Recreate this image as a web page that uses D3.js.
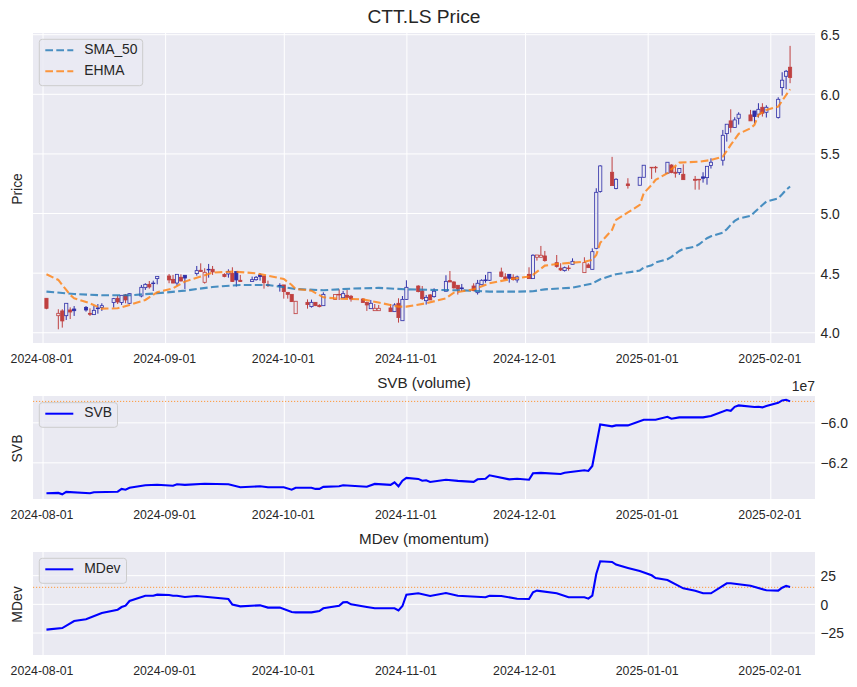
<!DOCTYPE html>
<html>
<head>
<meta charset="utf-8">
<script src="https://cdn.jsdelivr.net/npm/d3@7"></script>
<style>
  html, body { margin: 0; padding: 0; background: #fff; }
  svg { display: block; }
  text { font-family: "Liberation Sans", Arial, sans-serif; fill: #262626; }
</style>
</head>
<body>
<div id="chart"></div>
<script>
// Candles, one line per trading week
const candleDates = [
  '2024-08-02',
  '2024-08-05','2024-08-06','2024-08-07','2024-08-08','2024-08-09',
  '2024-08-12','2024-08-13','2024-08-14','2024-08-15','2024-08-16',
  '2024-08-19','2024-08-20','2024-08-21','2024-08-22','2024-08-23',
  '2024-08-26','2024-08-27','2024-08-28','2024-08-29','2024-08-30',
  '2024-09-02','2024-09-03','2024-09-04','2024-09-05','2024-09-06',
  '2024-09-09','2024-09-10','2024-09-11','2024-09-12','2024-09-13',
  '2024-09-16','2024-09-17','2024-09-18','2024-09-19','2024-09-20',
  '2024-09-23','2024-09-24','2024-09-25','2024-09-26','2024-09-27',
  '2024-09-30','2024-10-01','2024-10-02','2024-10-03','2024-10-04',
  '2024-10-07','2024-10-08','2024-10-09','2024-10-10','2024-10-11',
  '2024-10-14','2024-10-15','2024-10-16','2024-10-17','2024-10-18',
  '2024-10-21','2024-10-22','2024-10-23','2024-10-24','2024-10-25',
  '2024-10-28','2024-10-29','2024-10-30','2024-10-31','2024-11-01',
  '2024-11-04','2024-11-05','2024-11-06','2024-11-07','2024-11-08',
  '2024-11-11','2024-11-12','2024-11-13','2024-11-14','2024-11-15',
  '2024-11-18','2024-11-19','2024-11-20','2024-11-21','2024-11-22',
  '2024-11-25','2024-11-26','2024-11-27','2024-11-28','2024-11-29',
  '2024-12-02','2024-12-03','2024-12-04','2024-12-05','2024-12-06',
  '2024-12-09','2024-12-10','2024-12-11','2024-12-12','2024-12-13',
  '2024-12-16','2024-12-17','2024-12-18','2024-12-19','2024-12-20',
  '2024-12-23','2024-12-24','2024-12-27',
  '2024-12-30','2024-12-31','2025-01-02','2025-01-03',
  '2025-01-06','2025-01-07','2025-01-08','2025-01-09','2025-01-10',
  '2025-01-13','2025-01-14','2025-01-15','2025-01-16','2025-01-17',
  '2025-01-20','2025-01-21','2025-01-22','2025-01-23','2025-01-24',
  '2025-01-27','2025-01-28','2025-01-29','2025-01-30','2025-01-31',
  '2025-02-03','2025-02-04','2025-02-05','2025-02-06'
];
const opens = [
  4.285,
  4.139,4.179,4.139,4.187,4.195,
  4.209,4.159,4.148,4.204,4.207,
  4.249,4.285,4.249,4.313,4.243,
  4.304,4.374,4.402,4.413,4.450,
  4.472,4.444,4.413,4.461,4.478,
  4.492,4.520,4.419,4.528,4.528,
  4.486,4.489,4.495,4.509,4.436,
  4.425,4.441,4.481,4.472,4.397,
  4.394,4.397,4.335,4.318,4.156,
  4.251,4.215,4.251,4.226,4.223,
  4.276,4.318,4.290,4.310,4.302,
  4.279,4.249,4.198,4.181,4.181,
  4.204,4.173,4.243,4.097,4.276,
  4.388,4.346,4.265,4.313,4.299,
  4.344,4.433,4.422,4.394,4.372,
  4.388,4.332,4.399,4.439,4.436,
  4.506,4.464,4.486,4.461,4.439,
  4.486,4.450,4.629,4.629,4.640,
  4.584,4.537,4.517,4.539,4.570,
  4.500,4.565,4.528,4.704,5.180,
  5.342,5.205,5.244,
  5.233,5.300,5.381,5.381,
  5.334,5.403,5.342,5.339,5.325,
  5.283,5.280,5.303,5.297,5.398,
  5.443,5.666,5.773,5.717,5.795,
  5.823,5.856,5.829,5.887,5.845,
  5.801,6.052,6.147,6.223
];
const highs = [
  4.285,
  4.193,4.193,4.243,4.209,4.220,
  4.220,4.201,4.220,4.237,4.243,
  4.288,4.310,4.310,4.321,4.327,
  4.397,4.411,4.430,4.433,4.469,
  4.489,4.481,4.486,4.486,4.478,
  4.556,4.578,4.537,4.573,4.556,
  4.495,4.528,4.545,4.509,4.481,
  4.467,4.472,4.495,4.472,4.433,
  4.411,4.397,4.335,4.318,4.260,
  4.276,4.274,4.251,4.235,4.335,
  4.316,4.360,4.346,4.355,4.313,
  4.285,4.257,4.271,4.237,4.229,
  4.237,4.243,4.285,4.304,4.436,
  4.394,4.388,4.313,4.321,4.369,
  4.478,4.514,4.427,4.394,4.405,
  4.411,4.439,4.444,4.481,4.503,
  4.542,4.495,4.486,4.486,4.475,
  4.545,4.654,4.648,4.724,4.682,
  4.648,4.579,4.551,4.562,4.620,
  4.629,4.579,4.704,5.208,5.401,
  5.471,5.292,5.292,
  5.300,5.401,5.384,5.395,
  5.426,5.409,5.389,5.373,5.409,
  5.311,5.286,5.342,5.392,5.459,
  5.697,5.745,5.870,5.803,5.845,
  5.865,5.856,5.921,5.921,5.904,
  5.971,6.181,6.200,6.402
];
const lows = [
  4.193,
  4.025,4.039,4.103,4.111,4.137,
  4.173,4.137,4.148,4.156,4.179,
  4.207,4.237,4.229,4.243,4.237,
  4.293,4.355,4.366,4.346,4.402,
  4.411,4.411,4.391,4.427,4.363,
  4.475,4.506,4.408,4.458,4.481,
  4.461,4.458,4.422,4.383,4.422,
  4.425,4.433,4.433,4.366,4.380,
  4.341,4.282,4.282,4.254,4.156,
  4.198,4.207,4.220,4.209,4.223,
  4.276,4.271,4.285,4.285,4.257,
  4.249,4.179,4.198,4.181,4.181,
  4.173,4.173,4.081,4.097,4.271,
  4.335,4.271,4.232,4.271,4.290,
  4.344,4.422,4.366,4.316,4.344,
  4.344,4.316,4.397,4.416,4.430,
  4.461,4.444,4.416,4.433,4.416,
  4.450,4.450,4.601,4.629,4.592,
  4.542,4.514,4.509,4.517,4.570,
  4.500,4.539,4.528,4.696,5.171,
  5.230,5.199,5.205,
  5.233,5.300,5.286,5.339,
  5.334,5.334,5.297,5.320,5.280,
  5.196,5.196,5.255,5.238,5.373,
  5.398,5.599,5.675,5.717,5.742,
  5.773,5.753,5.801,5.809,5.801,
  5.792,5.985,6.038,6.089
];
const closes = [
  4.201,
  4.159,4.095,4.243,4.170,4.181,
  4.187,4.151,4.184,4.198,4.223,
  4.282,4.254,4.310,4.271,4.324,
  4.377,4.402,4.380,4.411,4.469,
  4.439,4.413,4.486,4.430,4.455,
  4.517,4.509,4.503,4.523,4.506,
  4.467,4.509,4.425,4.439,4.425,
  4.441,4.461,4.467,4.416,4.394,
  4.388,4.341,4.318,4.257,4.260,
  4.232,4.251,4.223,4.215,4.318,
  4.316,4.313,4.324,4.293,4.279,
  4.249,4.229,4.243,4.201,4.201,
  4.173,4.229,4.123,4.276,4.377,
  4.341,4.282,4.293,4.271,4.344,
  4.427,4.422,4.372,4.363,4.366,
  4.349,4.411,4.436,4.433,4.503,
  4.467,4.447,4.453,4.444,4.464,
  4.450,4.646,4.648,4.646,4.601,
  4.551,4.523,4.542,4.537,4.595,
  4.584,4.542,4.676,5.174,5.395,
  5.230,5.283,5.230,
  5.300,5.401,5.384,5.384,
  5.426,5.339,5.334,5.373,5.280,
  5.275,5.283,5.292,5.392,5.426,
  5.652,5.745,5.717,5.781,5.829,
  5.773,5.809,5.870,5.837,5.887,
  5.954,6.114,6.189,6.136
];
// b = blue candle, r = red candle
const tones = [
  'r',
  'r','r','b','r','b',
  'b','r','b','b','b',
  'b','r','b','r','b',
  'b','b','r','b','b',
  'r','r','b','r','b',
  'b','r','r','b','r',
  'r','b','r','b','r',
  'b','b','b','r','r',
  'b','r','r','r','r',
  'r','b','r','r','b',
  'r','r','b','r','r',
  'r','r','b','r','r',
  'r','b','r','b','b',
  'r','r','b','r','b',
  'b','r','r','r','b',
  'r','b','b','b','b',
  'r','r','b','r','b',
  'r','b','r','r','r',
  'r','r','b','r','b',
  'r','r','b','b','b',
  'r','b','r',
  'b','b','r','r',
  'b','r','r','b','r',
  'r','r','b','b','b',
  'b','b','r','b','b',
  'r','b','b','r','b',
  'b','b','b','r'
];

const smaDates = ['2024-08-02','2024-08-09','2024-08-16','2024-08-23','2024-08-30','2024-09-06','2024-09-13','2024-09-20','2024-09-27','2024-10-04','2024-10-11','2024-10-18','2024-10-25','2024-11-01','2024-11-08','2024-11-15','2024-11-22','2024-11-29','2024-12-03','2024-12-06','2024-12-13','2024-12-18','2024-12-20','2024-12-24','2024-12-30','2024-12-31','2025-01-02','2025-01-03','2025-01-06','2025-01-07','2025-01-09','2025-01-10','2025-01-13','2025-01-14','2025-01-16','2025-01-17','2025-01-20','2025-01-21','2025-01-22','2025-01-23','2025-01-24','2025-01-27','2025-01-28','2025-01-30','2025-01-31','2025-02-03','2025-02-04','2025-02-05','2025-02-06'];
const smaValues = [4.341,4.321,4.310,4.310,4.327,4.349,4.380,4.397,4.397,4.363,4.352,4.366,4.372,4.360,4.355,4.352,4.341,4.341,4.344,4.360,4.374,4.408,4.445,4.487,4.517,4.543,4.562,4.585,4.613,4.632,4.682,4.699,4.719,4.738,4.789,4.805,4.836,4.864,4.901,4.934,4.954,4.976,5.007,5.068,5.096,5.124,5.158,5.194,5.222];

const ehmaDates = ['2024-08-02','2024-08-05','2024-08-07','2024-08-08','2024-08-09','2024-08-13','2024-08-16','2024-08-20','2024-08-23','2024-08-27','2024-08-28','2024-08-30','2024-09-03','2024-09-06','2024-09-10','2024-09-13','2024-09-18','2024-09-24','2024-09-27','2024-10-01','2024-10-03','2024-10-04','2024-10-08','2024-10-11','2024-10-15','2024-10-21','2024-10-25','2024-10-30','2024-11-01','2024-11-06','2024-11-11','2024-11-13','2024-11-18','2024-11-22','2024-11-27','2024-12-02','2024-12-03','2024-12-06','2024-12-09','2024-12-16','2024-12-18','2024-12-19','2024-12-20','2024-12-23','2024-12-24','2024-12-27','2024-12-30','2024-12-31','2025-01-02','2025-01-03','2025-01-06','2025-01-07','2025-01-09','2025-01-14','2025-01-17','2025-01-20','2025-01-22','2025-01-24','2025-01-27','2025-01-28','2025-01-29','2025-01-31','2025-02-03','2025-02-06'];
const ehmaValues = [4.486,4.439,4.355,4.313,4.285,4.243,4.198,4.201,4.229,4.271,4.293,4.335,4.369,4.425,4.467,4.500,4.509,4.495,4.475,4.447,4.397,4.363,4.349,4.293,4.282,4.276,4.249,4.215,4.215,4.243,4.285,4.332,4.360,4.411,4.444,4.467,4.481,4.559,4.573,4.592,4.607,4.648,4.750,4.858,4.942,5.005,5.068,5.166,5.236,5.278,5.334,5.367,5.423,5.431,5.445,5.473,5.571,5.664,5.711,5.739,5.823,5.865,5.893,6.038];

// SVB in units of 1e7
const svbDates = ['2024-08-02','2024-08-05','2024-08-06','2024-08-07','2024-08-13','2024-08-14','2024-08-20','2024-08-21','2024-08-22','2024-08-23','2024-08-27','2024-08-30','2024-09-03','2024-09-04','2024-09-06','2024-09-11','2024-09-17','2024-09-20','2024-09-25','2024-09-27','2024-10-01','2024-10-03','2024-10-04','2024-10-08','2024-10-09','2024-10-10','2024-10-11','2024-10-15','2024-10-16','2024-10-22','2024-10-24','2024-10-28','2024-10-29','2024-10-30','2024-10-31','2024-11-01','2024-11-04','2024-11-05','2024-11-06','2024-11-07','2024-11-11','2024-11-14','2024-11-18','2024-11-19','2024-11-21','2024-11-22','2024-11-27','2024-11-29','2024-12-02','2024-12-03','2024-12-05','2024-12-10','2024-12-11','2024-12-16','2024-12-17','2024-12-18','2024-12-19','2024-12-20','2024-12-23','2024-12-24','2024-12-27','2024-12-31','2025-01-03','2025-01-06','2025-01-07','2025-01-09','2025-01-15','2025-01-17','2025-01-21','2025-01-22','2025-01-23','2025-01-24','2025-01-28','2025-01-29','2025-01-30','2025-01-31','2025-02-03','2025-02-04','2025-02-05','2025-02-06'];
const svbValues = [-6.355,-6.353,-6.360,-6.348,-6.355,-6.350,-6.347,-6.333,-6.337,-6.327,-6.315,-6.312,-6.317,-6.310,-6.313,-6.307,-6.310,-6.325,-6.320,-6.325,-6.325,-6.337,-6.327,-6.327,-6.333,-6.333,-6.323,-6.320,-6.315,-6.322,-6.308,-6.313,-6.300,-6.320,-6.292,-6.278,-6.283,-6.292,-6.290,-6.298,-6.287,-6.293,-6.298,-6.285,-6.282,-6.265,-6.285,-6.282,-6.287,-6.255,-6.253,-6.258,-6.252,-6.240,-6.243,-6.218,-6.113,-6.010,-6.020,-6.015,-6.015,-5.987,-5.987,-5.972,-5.982,-5.975,-5.975,-5.968,-5.938,-5.942,-5.922,-5.915,-5.923,-5.922,-5.925,-5.918,-5.902,-5.890,-5.887,-5.895];

const mdevDates = ['2024-08-02','2024-08-06','2024-08-09','2024-08-12','2024-08-16','2024-08-20','2024-08-21','2024-08-22','2024-08-23','2024-08-27','2024-08-29','2024-08-30','2024-09-02','2024-09-03','2024-09-04','2024-09-06','2024-09-09','2024-09-17','2024-09-18','2024-09-20','2024-09-25','2024-09-27','2024-09-30','2024-10-03','2024-10-04','2024-10-08','2024-10-10','2024-10-11','2024-10-15','2024-10-16','2024-10-17','2024-10-18','2024-10-22','2024-10-24','2024-10-29','2024-10-30','2024-10-31','2024-11-01','2024-11-04','2024-11-07','2024-11-11','2024-11-14','2024-11-21','2024-11-22','2024-11-25','2024-11-29','2024-12-02','2024-12-03','2024-12-04','2024-12-09','2024-12-12','2024-12-16','2024-12-17','2024-12-18','2024-12-19','2024-12-20','2024-12-23','2024-12-24','2024-12-27','2024-12-30','2025-01-02','2025-01-03','2025-01-06','2025-01-10','2025-01-13','2025-01-15','2025-01-17','2025-01-21','2025-01-22','2025-01-27','2025-01-31','2025-02-03','2025-02-04','2025-02-05','2025-02-06'];
const mdevValues = [-22.5,-21.1,-15.0,-13.5,-8.0,-5.1,-2.8,-1.6,2.5,7.1,7.1,8.0,7.7,7.1,7.1,6.0,6.8,4.2,-0.7,-2.2,-1.3,-3.3,-3.3,-7.1,-7.4,-7.4,-6.3,-3.9,-1.6,1.3,1.6,-0.4,-2.8,-3.9,-3.9,-5.7,-1.9,8.0,9.2,6.8,9.4,7.1,5.7,7.1,6.8,4.5,4.2,10.0,11.5,9.2,5.7,5.7,4.5,7.1,26.0,37.1,36.5,34.2,31.3,28.6,24.9,22.5,20.8,13.5,11.5,9.2,9.2,17.9,17.9,15.8,11.8,11.5,14.1,15.6,14.7];

const dateTicks = ['2024-08-01','2024-09-01','2024-10-01','2024-11-01','2024-12-01','2025-01-01','2025-02-01'];
const priceTicks = [4.0,4.5,5.0,5.5,6.0,6.5];
const svbTicks = [-6.2,-6.0];
const mdevTicks = [-25,0,25];
const svbLevel = -5.895;
const mdevLevel = 14.4;

const width = 857, height = 687;
const left = 33, right = 815;
const parseDate = d3.utcParse('%Y-%m-%d');
const dashed = '7.7,3.3';

const svg = d3.select('#chart').append('svg')
    .attr('width', width)
    .attr('height', height);

// Shared date scale
const xScale = d3.scaleUtc()
    .domain([parseDate('2024-08-01'), parseDate('2025-02-01')])
    .range([42.5, 770.3]);

function drawPanel(top, bottom, domain, ticks, fmt, title, titleY, titleSize, label) {
    const yScale = d3.scaleLinear().domain(domain).range([bottom, top]);

    svg.append('rect')
        .attr('x', left).attr('y', top)
        .attr('width', right - left).attr('height', bottom - top)
        .attr('fill', '#eaeaf2');

    // x axis carries the vertical grid lines
    const xAxis = svg.append('g')
        .attr('transform', `translate(0, ${bottom})`)
        .call(d3.axisBottom(xScale)
            .tickValues(dateTicks.map(parseDate))
            .tickSize(top - bottom)
            .tickPadding(11)
            .tickFormat(d3.utcFormat('%Y-%m-%d')));
    xAxis.select('.domain').remove();
    xAxis.selectAll('line').attr('stroke', '#fff').attr('stroke-width', 1);
    xAxis.selectAll('text').attr('x', -1).style('font-size', '12.3px');

    const yAxis = svg.append('g')
        .attr('transform', `translate(${right}, 0)`)
        .call(d3.axisRight(yScale)
            .tickValues(ticks)
            .tickSize(left - right)
            .tickPadding(5.5)
            .tickFormat(fmt));
    yAxis.select('.domain').remove();
    yAxis.selectAll('line').attr('stroke', '#fff').attr('stroke-width', 1);
    yAxis.selectAll('text').attr('y', 1).style('font-size', '13.9px');

    svg.append('text')
        .attr('x', (left + right) / 2).attr('y', titleY)
        .attr('text-anchor', 'middle')
        .attr('dominant-baseline', 'middle')
        .style('font-size', titleSize)
        .text(title);

    svg.append('text')
        .attr('transform', `translate(18.5, ${(top + bottom) / 2 + 1}) rotate(-90)`)
        .attr('text-anchor', 'middle')
        .attr('dominant-baseline', 'middle')
        .style('font-size', '13.9px')
        .text(label);

    return yScale;
}

function drawLine(yScale, dates, values, stroke, widthPx, dash, opacity) {
    const line = d3.line()
        .x(d => xScale(parseDate(d[0])))
        .y(d => yScale(d[1]));
    svg.append('path')
        .datum(d3.zip(dates, values))
        .attr('d', line)
        .attr('fill', 'none')
        .attr('stroke', stroke)
        .attr('stroke-width', widthPx)
        .attr('stroke-dasharray', dash)
        .attr('stroke-opacity', opacity);
}

function drawLevel(yScale, value) {
    svg.append('line')
        .attr('x1', left).attr('x2', right)
        .attr('y1', yScale(value)).attr('y2', yScale(value))
        .attr('stroke', '#ff9a3c')
        .attr('stroke-width', 1)
        .attr('stroke-dasharray', '1.2,1.8');
}

function drawLegend(x, y, w, h, items) {
    const g = svg.append('g');
    g.append('rect')
        .attr('x', x).attr('y', y)
        .attr('width', w).attr('height', h)
        .attr('rx', 3)
        .attr('fill', '#eaeaf2').attr('fill-opacity', 0.8)
        .attr('stroke', '#cccccc');
    items.forEach((item, i) => {
        const ly = y + 11 + i * 21;
        g.append('line')
            .attr('x1', x + 6).attr('x2', x + 34)
            .attr('y1', ly).attr('y2', ly)
            .attr('stroke', item.color)
            .attr('stroke-width', 2)
            .attr('stroke-opacity', item.opacity)
            .attr('stroke-dasharray', item.dash);
        g.append('text')
            .attr('x', x + 45).attr('y', ly)
            .attr('dominant-baseline', 'middle')
            .style('font-size', '13.9px')
            .text(item.name);
    });
}

// Price panel
const fmt1 = d3.format('.1f');
const yPrice = drawPanel(33, 343, [3.91, 6.51], priceTicks, fmt1, 'CTT.LS Price', 18, '19.2px', 'Price');

const toneColor = { b: '#2f2fa8', r: '#bf4040' };
const candles = d3.range(candleDates.length).map(i => ({
    date: parseDate(candleDates[i]),
    open: opens[i], high: highs[i], low: lows[i], close: closes[i], tone: tones[i]
}));

const candleG = svg.selectAll('.candle')
    .data(candles)
    .enter().append('g')
    .attr('class', 'candle');

candleG.append('line')
    .attr('x1', d => xScale(d.date)).attr('x2', d => xScale(d.date))
    .attr('y1', d => yPrice(d.high)).attr('y2', d => yPrice(d.low))
    .attr('stroke', d => toneColor[d.tone])
    .attr('stroke-width', 1);

// Filled body when the close is under the open, hollow otherwise
candleG.append('rect')
    .attr('x', d => xScale(d.date) - 1.6)
    .attr('width', 3.2)
    .attr('y', d => yPrice(Math.max(d.open, d.close)))
    .attr('height', d => Math.max(0.6, Math.abs(yPrice(d.open) - yPrice(d.close))))
    .attr('fill', d => d.close < d.open ? toneColor[d.tone] : '#eaeaf2')
    .attr('stroke', d => toneColor[d.tone])
    .attr('stroke-width', 0.8);

drawLine(yPrice, smaDates, smaValues, '#1f77b4', 2.1, dashed, 0.8);
drawLine(yPrice, ehmaDates, ehmaValues, '#ff7f0e', 2.1, dashed, 0.8);
drawLegend(39.3, 39.3, 103.4, 46.4, [
    { name: 'SMA_50', color: '#1f77b4', dash: dashed, opacity: 0.8 },
    { name: 'EHMA', color: '#ff7f0e', dash: dashed, opacity: 0.8 }
]);

// SVB panel
const ySvb = drawPanel(396, 499, [-6.3835, -5.868], svbTicks, fmt1, 'SVB (volume)', 384, '15.2px', 'SVB');
drawLevel(ySvb, svbLevel);
drawLine(ySvb, svbDates, svbValues, '#0000ff', 2.1, null, 1);
drawLegend(39.3, 402.7, 78.2, 24.6, [{ name: 'SVB', color: '#0000ff', dash: null, opacity: 1 }]);
svg.append('text')
    .attr('x', right).attr('y', 387)
    .attr('text-anchor', 'end')
    .attr('dominant-baseline', 'middle')
    .style('font-size', '13.9px')
    .text('1e7');

// MDev panel
const yMdev = drawPanel(552, 655, [-44.6, 45.2], mdevTicks, d3.format('d'), 'MDev (momentum)', 540, '15.2px', 'MDev');
drawLevel(yMdev, mdevLevel);
drawLine(yMdev, mdevDates, mdevValues, '#0000ff', 2.1, null, 1);
drawLegend(39.3, 558.3, 87.2, 25, [{ name: 'MDev', color: '#0000ff', dash: null, opacity: 1 }]);
</script>
</body>
</html>
